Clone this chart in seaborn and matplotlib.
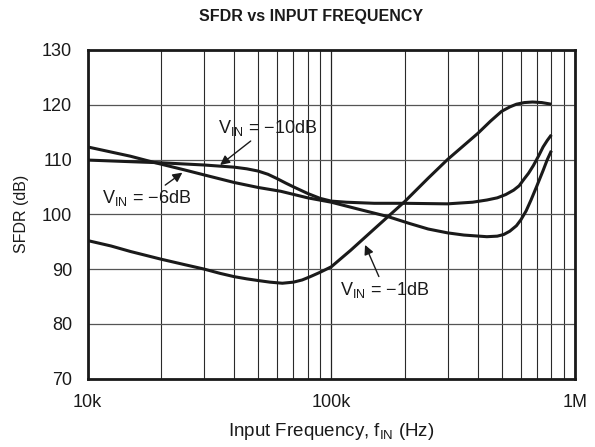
import matplotlib
matplotlib.use("Agg")
import matplotlib.pyplot as plt
import seaborn as sns
import pandas as pd
from matplotlib.ticker import FixedLocator, NullFormatter

# ---- data ----
freq_1db = [10e3, 12.5e3, 15e3, 20e3, 25e3, 30e3, 35e3, 40e3, 45e3, 50e3, 56e3, 63e3,
            70e3, 76e3, 82e3, 90e3, 100e3, 120e3, 150e3, 200e3, 250e3, 300e3, 400e3,
            450e3, 500e3, 540e3, 575e3, 620e3, 670e3, 730e3, 800e3]
sfdr_1db = [95.2, 94.2, 93.2, 91.8, 90.8, 90.0, 89.2, 88.6, 88.2, 87.9, 87.6, 87.4,
            87.6, 88.0, 88.6, 89.4, 90.4, 93.4, 97.3, 102.3, 106.6, 110.0, 114.8,
            117.0, 118.8, 119.6, 120.1, 120.4, 120.5, 120.4, 120.1]

freq_6db = [10e3, 15e3, 19e3, 25e3, 30e3, 40e3, 50e3, 62e3, 80e3, 100e3, 130e3, 170e3,
            210e3, 250e3, 300e3, 350e3, 435e3, 480e3, 510e3, 540e3, 575e3, 600e3,
            630e3, 660e3, 695e3, 740e3, 770e3, 800e3]
sfdr_6db = [112.3, 110.6, 109.4, 108.1, 107.2, 105.8, 104.9, 104.2, 103.0, 102.2, 100.9, 99.6,
            98.3, 97.3, 96.6, 96.2, 95.9, 96.0, 96.3, 96.9, 97.9, 99.0,
            100.6, 102.6, 105.0, 108.0, 110.0, 111.6]

freq_10db = [10e3, 15e3, 20e3, 30e3, 40e3, 45e3, 50e3, 55e3, 60e3, 65e3, 70e3, 80e3,
             90e3, 100e3, 115e3, 150e3, 200e3, 300e3, 380e3, 435e3, 480e3, 520e3,
             560e3, 590e3, 615e3, 645e3, 675e3, 710e3, 740e3, 770e3, 800e3]
sfdr_10db = [109.9, 109.6, 109.4, 109.0, 108.6, 108.3, 107.9, 107.3, 106.5, 105.7, 105.0, 103.8,
             102.9, 102.4, 102.2, 102.0, 102.0, 101.9, 102.2, 102.6, 103.0, 103.6,
             104.4, 105.2, 106.3, 107.5, 108.9, 110.7, 112.3, 113.5, 114.5]

x_ticks = [1e4, 1e5, 1e6]
x_tick_labels = ["10k", "100k", "1M"]
y_ticks = [70, 80, 90, 100, 110, 120, 130]

df = pd.concat([
    pd.DataFrame({"f": freq_1db, "sfdr": sfdr_1db, "curve": "-1dB"}),
    pd.DataFrame({"f": freq_6db, "sfdr": sfdr_6db, "curve": "-6dB"}),
    pd.DataFrame({"f": freq_10db, "sfdr": sfdr_10db, "curve": "-10dB"}),
])

sns.set_theme(style="white")
plt.rcParams["font.family"] = ["Liberation Sans", "DejaVu Sans"]
plt.rcParams["mathtext.default"] = "regular"

fig = plt.figure(figsize=(5.95, 4.47), dpi=100)
ax = fig.add_axes([87.5 / 595, 1 - 378.5 / 447, (575 - 87.5) / 595, (378.5 - 50) / 447])

for name in ["-1dB", "-6dB", "-10dB"]:
    sub = df[df["curve"] == name]
    sns.lineplot(data=sub, x="f", y="sfdr", ax=ax, color="#1a1a1a", lw=2.2,
                 sort=False, estimator=None, legend=False, zorder=3)
for ln in ax.lines:
    ln.set_solid_joinstyle("round")
    ln.set_solid_capstyle("butt")

ax.set_xscale("log")
ax.set_xlim(1e4, 1e6)
ax.set_ylim(70, 130)
ax.xaxis.set_major_locator(FixedLocator(x_ticks))
ax.set_xticklabels(x_tick_labels)
minor = [m * d for d in (1e4, 1e5) for m in range(2, 10)]
ax.xaxis.set_minor_locator(FixedLocator(minor))
ax.xaxis.set_minor_formatter(NullFormatter())
ax.set_yticks(y_ticks)

ax.grid(True, which="major", axis="x", color="#222222", lw=0.9)
ax.grid(True, which="minor", axis="x", color="#2a2a2a", lw=0.8)
ax.grid(True, which="major", axis="y", color="#555555", lw=0.9)
ax.set_axisbelow(True)

ax.tick_params(axis="both", which="both", length=0, labelsize=13, colors="#1a1a1a")
ax.tick_params(axis="x", pad=11)
ax.tick_params(axis="y", pad=11)
for s in ax.spines.values():
    s.set_color("#1a1a1a")
    s.set_linewidth(2)
    s.set_zorder(5)

ax.set_xlabel("Input Frequency, f$_{IN}$ (Hz)", fontsize=13.5, color="#1a1a1a", labelpad=7)
ax.set_ylabel("SFDR (dB)", fontsize=11.5, color="#1a1a1a", labelpad=9)
ax.set_title("SFDR vs INPUT FREQUENCY", fontsize=11.5, fontweight="bold", pad=21,
             color="#1a1a1a", x=(311 - 87.5) / 487.5)

arrow = dict(arrowstyle="-|>", color="#1a1a1a", lw=1.0, mutation_scale=14, shrinkA=0, shrinkB=0)
ax.annotate("V$_{IN}$ = \u221210dB", xy=(35.0e3, 109.0), xytext=(34.3e3, 115.8),
            fontsize=13, ha="left", va="center", color="#1a1a1a", arrowprops=arrow, zorder=6)
ax.annotate("V$_{IN}$ = \u22126dB", xy=(24.5e3, 107.6), xytext=(11.5e3, 102.9),
            fontsize=13, ha="left", va="center", color="#1a1a1a", arrowprops=arrow, zorder=6)
ax.annotate("V$_{IN}$ = \u22121dB", xy=(137.6e3, 94.4), xytext=(108.6e3, 86.2),
            fontsize=13, ha="left", va="center", color="#1a1a1a", arrowprops=arrow, zorder=6)

fig.savefig("out.png", dpi=100)
